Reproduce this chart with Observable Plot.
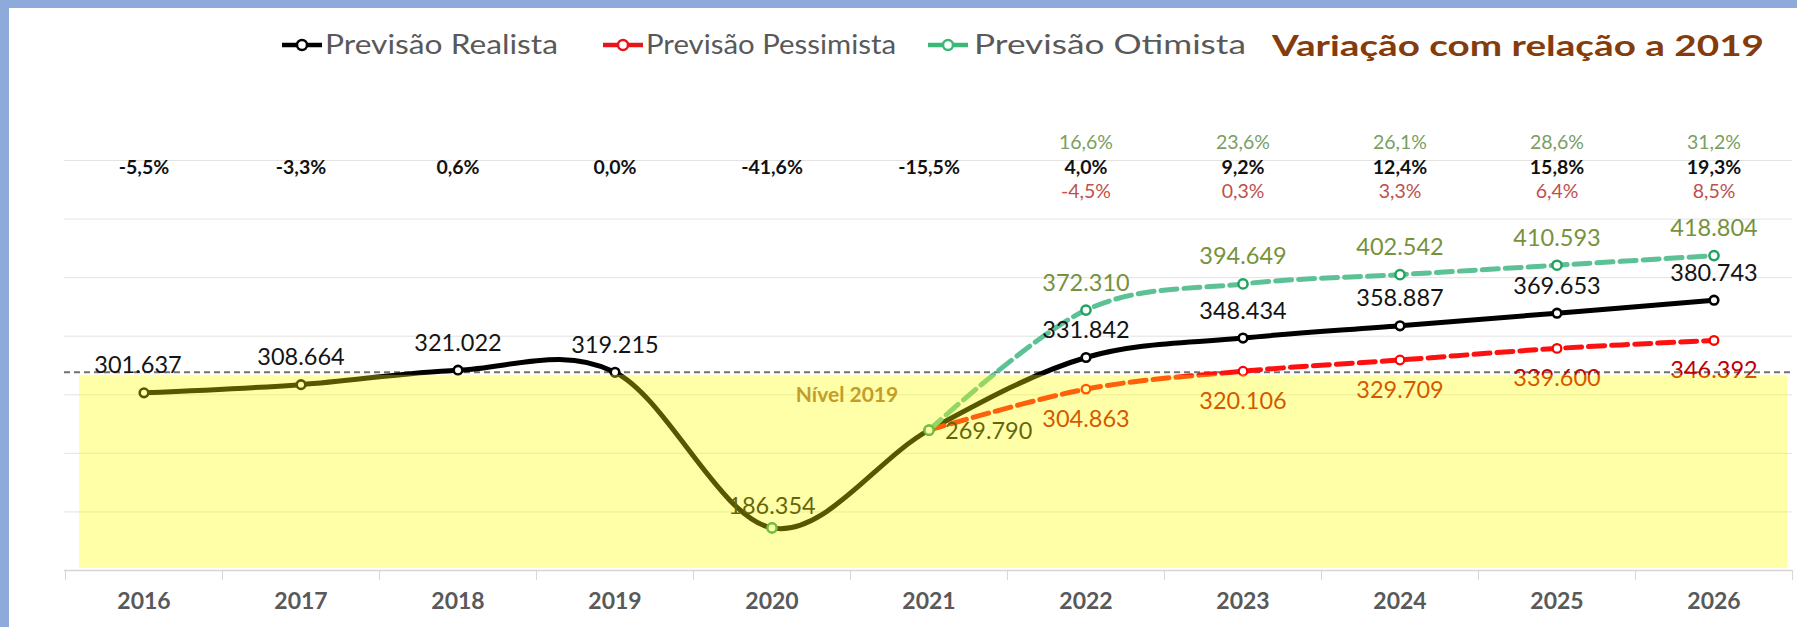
<!DOCTYPE html>
<html><head><meta charset="utf-8">
<script src="https://cdn.jsdelivr.net/npm/d3@7"></script>
<script src="https://cdn.jsdelivr.net/npm/@observablehq/plot@0.6"></script>
<style>
html,body{margin:0;padding:0;background:#fff;}
#wrap{position:relative;width:1797px;height:627px;overflow:hidden;background:#fff;}
#head svg,#chart svg{display:block;}
.bt{position:absolute;left:0;top:0;width:1797px;height:8px;background:#8eaadb;}
.bl{position:absolute;left:0;top:0;width:9px;height:627px;background:#8eaadb;}
</style></head><body>
<div id="wrap"><div id="head"></div><div id="chart"></div><div class="bt"></div><div class="bl"></div></div>
<script>
// ---- data ----
const years = [2016, 2017, 2018, 2019, 2020, 2021, 2022, 2023, 2024, 2025, 2026];
const realista = [301637, 308664, 321022, 319215, 186354, 269790, 331842, 348434, 358887, 369653, 380743];
const pessYears = [2021, 2022, 2023, 2024, 2025, 2026];
const pessimista = [269790, 304863, 320106, 329709, 339600, 346392];
const otimYears = [2020, 2021, 2022, 2023, 2024, 2025, 2026];
const otimista = [186354, 269790, 372310, 394649, 402542, 410593, 418804];
const nivel2019 = 319215;
const varRealista = ["-5,5%", "-3,3%", "0,6%", "0,0%", "-41,6%", "-15,5%", "4,0%", "9,2%", "12,4%", "15,8%", "19,3%"];
const varYears = [2022, 2023, 2024, 2025, 2026];
const varOtimista = ["16,6%", "23,6%", "26,1%", "28,6%", "31,2%"];
const varPessimista = ["-4,5%", "0,3%", "3,3%", "6,4%", "8,5%"];
const gridTicks = [150000, 200000, 250000, 300000, 350000, 400000, 450000, 500000];
const seriesNames = ["Previsão Realista", "Previsão Pessimista", "Previsão Otimista"];
const titleText = "Variação com relação a 2019";
const nivelText = "Nível 2019";

// ---- tables ----
const real = years.map((year, i) => ({year, value: realista[i]}));
const pess = pessYears.map((year, i) => ({year, value: pessimista[i]}));
const otim = otimYears.map((year, i) => ({year, value: otimista[i]}));
const pctReal = years.map((year, i) => ({year, label: varRealista[i]}));
const pctOtim = varYears.map((year, i) => ({year, label: varOtimista[i]}));
const pctPess = varYears.map((year, i) => ({year, label: varPessimista[i]}));
const fmt = d3.formatLocale({decimal: ",", thousands: ".", grouping: [3], currency: ["", ""]}).format(",d");

// ---- header (legend + title) ----
const HEAD_H = 90;
const colors = {real: "#000000", pess: "#e8141b", otim: "#3cb878"};
const legendItems = [
  {name: seriesNames[0], color: colors.real, mx: 282, tx: 325, tl: 233},
  {name: seriesNames[1], color: colors.pess, mx: 603, tx: 646, tl: 250},
  {name: seriesNames[2], color: colors.otim, mx: 928, tx: 974, tl: 272}
];
const head = d3.select("#head").append("svg").attr("width", 1797).attr("height", HEAD_H);
for (const it of legendItems) {
  const g = head.append("g");
  g.append("line").attr("x1", it.mx).attr("x2", it.mx + 40).attr("y1", 45).attr("y2", 45)
    .attr("stroke", it.color).attr("stroke-width", 4.5);
  g.append("circle").attr("cx", it.mx + 20).attr("cy", 45).attr("r", 5).attr("fill", "#fff")
    .attr("stroke", it.color).attr("stroke-width", 2.5);
  g.append("text").attr("x", it.tx).attr("y", 54).text(it.name)
    .attr("font-family", "Lato, sans-serif").attr("font-size", 26).attr("fill", "#595959")
    .attr("textLength", it.tl).attr("lengthAdjust", "spacingAndGlyphs");
}
head.append("text").attr("x", 1272).attr("y", 56).text(titleText)
  .attr("font-family", "Lato, sans-serif").attr("font-size", 28).attr("font-weight", 700)
  .attr("fill", "#843c0c").attr("textLength", 492).attr("lengthAdjust", "spacingAndGlyphs");

// ---- chart ----
const W = 1797, H = 627 - HEAD_H, ML = 64, MR = 5, MT = 160 - HEAD_H, MB = 57;
const bw = (W - ML - MR) / years.length;
const tickEnd = gridTicks[0] - (gridTicks[1] - gridTicks[0]) * 0.17;
const topTick = gridTicks[gridTicks.length - 1];
const F = "Lato, sans-serif";

function yellowBand(index, scales) {
  const x = scales.x, y = scales.y;
  const b = x.bandwidth();
  const x0 = x(years[0]) + 14, x1 = x(years[years.length - 1]) + b - 5;
  const y0 = y(nivel2019) + 3, y1 = y(gridTicks[0]) - 2;
  return d3.create("svg:rect").attr("x", x0).attr("y", y0).attr("width", x1 - x0).attr("height", y1 - y0)
    .attr("fill", "#ffff00").attr("fill-opacity", 0.34).node();
}

const LS = 23.5;
const realLabels = real.filter(d => d.year !== 2016 && d.year !== 2020 && d.year !== 2021);
const chart = Plot.plot({
  width: W, height: H, marginLeft: ML, marginRight: MR, marginTop: MT, marginBottom: MB,
  x: {type: "band", domain: years, padding: 0, axis: null},
  y: {domain: [gridTicks[0], topTick], axis: null},
  style: {fontFamily: F, background: "transparent", overflow: "visible"},
  marks: [
    Plot.ruleY(gridTicks.slice(1), {stroke: "#e3e3e3", strokeWidth: 1}),
    Plot.ruleY([gridTicks[0]], {stroke: "#d6d6d6", strokeWidth: 1.3}),
    Plot.ruleX(years, {x: d => d, dx: -bw / 2, y1: gridTicks[0], y2: tickEnd, stroke: "#d6d6d6"}),
    Plot.ruleX([years[years.length - 1]], {x: d => d, dx: bw / 2, y1: gridTicks[0], y2: tickEnd, stroke: "#d6d6d6"}),
    Plot.ruleY([nivel2019], {stroke: "#707070", strokeWidth: 2, strokeDasharray: "6,4"}),
    Plot.line(real, {x: "year", y: "value", stroke: colors.real, strokeWidth: 5, curve: "cardinal"}),
    Plot.line(pess, {x: "year", y: "value", stroke: "#ff1010", strokeWidth: 5, strokeDasharray: "16,7", curve: "cardinal"}),
    Plot.line(otim.filter(d => d.year >= 2021), {x: "year", y: "value", stroke: "#5cc195", strokeWidth: 5, strokeDasharray: "16,7", curve: "cardinal"}),
    Plot.dot(real, {x: "year", y: "value", r: 4.3, stroke: colors.real, strokeWidth: 2.6, fill: "#fff"}),
    Plot.dot(pess.filter(d => d.year >= 2022), {x: "year", y: "value", r: 4.3, stroke: "#ff0000", strokeWidth: 2.3, fill: "#fff"}),
    Plot.dot(otim, {x: "year", y: "value", r: 4.6, stroke: "#1fa35f", strokeWidth: 2.5, fill: "#fff"}),
    // value labels
    Plot.text(realLabels, {x: "year", y: "value", text: d => fmt(d.value), dy: -27, fill: "#141414", fontSize: LS, fontFamily: F}),
    Plot.text(real.filter(d => d.year === 2016), {x: "year", y: "value", text: d => fmt(d.value), dx: -6, dy: -27, fill: "#141414", fontSize: LS, fontFamily: F}),
    Plot.text(real.filter(d => d.year === 2020), {x: "year", y: "value", text: d => fmt(d.value), dy: -21, fill: "#141414", fontSize: LS, fontFamily: F}),
    Plot.text(real.filter(d => d.year === 2021), {x: "year", y: "value", text: d => fmt(d.value), dx: 16, dy: 1, textAnchor: "start", fill: "#141414", fontSize: LS, fontFamily: F}),
    Plot.text(otim.filter(d => d.year >= 2022), {x: "year", y: "value", text: d => fmt(d.value), dy: -27, fill: "#76923c", fontSize: LS, fontFamily: F}),
    Plot.text(pess.filter(d => d.year >= 2022), {x: "year", y: "value", text: d => fmt(d.value), dy: 30, fill: "#c00000", fontSize: LS, fontFamily: F}),
    // translucent 2019-level band (drawn over the series, tinting them)
    yellowBand,
    Plot.text([nivel2019], {x: () => years[4], y: d => d, text: () => nivelText, dx: 75, dy: 23, fill: "#c49c2c", fontWeight: "bold", fontSize: 21, fontFamily: F}),
    // variation rows
    Plot.text(pctReal, {x: "year", y: () => topTick, text: "label", dy: 7, fill: "#111", fontWeight: "bold", fontSize: 19.5, fontFamily: F}),
    Plot.text(pctOtim, {x: "year", y: () => topTick, text: "label", dy: -18, fill: "#7a9e62", fontSize: 19.5, fontFamily: F}),
    Plot.text(pctPess, {x: "year", y: () => topTick, text: "label", dy: 31, fill: "#c0504d", fontSize: 19.5, fontFamily: F}),
    // x axis labels
    Plot.text(years, {x: d => d, frameAnchor: "bottom", text: d => String(d), dy: 38, fill: "#595959", fontWeight: "bold", fontSize: 23, fontFamily: F})
  ]
});
document.getElementById("chart").appendChild(chart);
</script>
</body></html>
